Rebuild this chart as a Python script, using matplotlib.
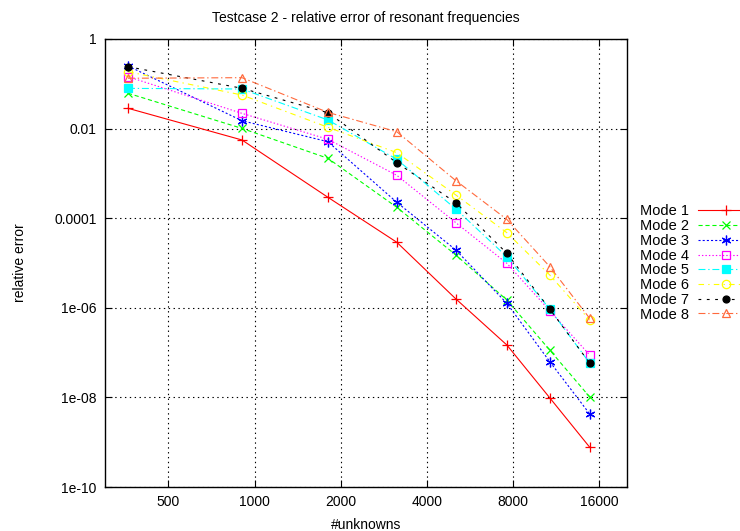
import matplotlib
matplotlib.use('Agg')
import matplotlib.pyplot as plt
from matplotlib.ticker import FixedLocator, FixedFormatter, NullLocator

plt.rcParams['font.family'] = ['Liberation Sans', 'DejaVu Sans']
plt.rcParams['lines.scale_dashes'] = False

# unknowns per refinement level
unknowns = [361, 903, 1803, 3139, 5046, 7606, 10741, 14820]

# relative error per mode
mode1 = [0.0284, 0.00557, 2.93e-4, 2.9e-5, 1.58e-6, 1.48e-7, 9.8e-9, 7.7e-10]
mode2 = [0.0616, 0.0101, 2.17e-3, 1.75e-4, 1.51e-5, 1.49e-6, 1.14e-7, 1.02e-8]
mode3 = [0.25, 0.0150, 5.1e-3, 2.26e-4, 1.95e-5, 1.26e-6, 6.3e-8, 4.26e-9]
mode4 = [0.144, 0.0219, 5.77e-3, 9.06e-4, 7.94e-5, 9.84e-6, 8.6e-7, 8.8e-8]
mode5 = [0.079, 0.0765, 0.0156, 2.06e-3, 1.6e-4, 1.38e-5, 9.4e-7, 5.8e-8]
mode6 = [0.186, 0.0562, 0.0107, 2.9e-3, 3.3e-4, 4.75e-5, 5.4e-6, 5.3e-7]
mode7 = [0.241, 0.0794, 0.0226, 1.73e-3, 2.22e-4, 1.65e-5, 9.4e-7, 5.8e-8]
mode8 = [0.133, 0.137, 0.023, 8.5e-3, 6.9e-4, 9.4e-5, 8.3e-6, 5.8e-7]

modes = [mode1, mode2, mode3, mode4, mode5, mode6, mode7, mode8]
labels = ['Mode 1', 'Mode 2', 'Mode 3', 'Mode 4', 'Mode 5', 'Mode 6', 'Mode 7', 'Mode 8']

xticks = [500, 1000, 2000, 4000, 8000, 16000]
xticklabels = ['500', '1000', '2000', '4000', '8000', '16000']
yticks = [1, 1e-2, 1e-4, 1e-6, 1e-8, 1e-10]
yticklabels = ['1', '0.01', '0.0001', '1e-06', '1e-08', '1e-10']

# gnuplot-like styles
colors = ['#ff0000', '#00ff00', '#0000ff', '#ff00ff', '#00ffff', '#ffff00', '#000000', '#ff6a3d']
dashes = [None, (3, 2), (1.5, 1.5), (1, 1.5), (5, 2, 1, 2), (4, 3, 1, 3), (2, 4), (5, 2, 1, 2)]
markers = ['+', 'x', (6, 2, 0), 's', 's', 'o', 'o', '^']
mfill = ['full', 'full', 'full', 'none', 'full', 'none', 'full', 'none']
msizes = [7, 6, 7, 5.5, 5.5, 6, 5, 6]

fig = plt.figure(figsize=(7.4, 5.31), dpi=100)
ax = fig.add_axes([105/740, 44/531, 522/740, 448/531])

for i in range(len(modes)):
    ln, = ax.plot(unknowns, modes[i], color=colors[i], marker=markers[i],
                  fillstyle=mfill[i], markersize=msizes[i], lw=0.8,
                  markeredgewidth=0.9, label=labels[i])
    if dashes[i] is not None:
        ln.set_dashes(dashes[i])

ax.set_xscale('log', base=2)
ax.set_yscale('log')
ax.set_xlim(300, 20000)
ax.set_ylim(1e-10, 1)

ax.xaxis.set_major_locator(FixedLocator(xticks))
ax.xaxis.set_major_formatter(FixedFormatter(xticklabels))
ax.xaxis.set_minor_locator(NullLocator())
ax.yaxis.set_major_locator(FixedLocator(yticks))
ax.yaxis.set_major_formatter(FixedFormatter(yticklabels))
ax.yaxis.set_minor_locator(NullLocator())

ax.grid(True, color='black', linestyle=(0, (1, 2.5)), lw=0.8)
ax.tick_params(direction='in', top=True, right=True, length=5, width=0.8,
               labelsize=10, pad=6)
for s in ax.spines.values():
    s.set_linewidth(1.0)

ax.set_title('Testcase 2 - relative error of resonant frequencies', fontsize=10, pad=12)
ax.set_xlabel('#unknowns', fontsize=10, labelpad=6)
ax.set_ylabel('relative error', fontsize=10, labelpad=20)

fig.legend(loc='center left', bbox_to_anchor=(633/740, 1 - 263/531),
           frameon=False, markerfirst=False, fontsize=10.5, borderpad=0,
           labelspacing=0.05, handlelength=3.8, handletextpad=0.6)

fig.savefig('out.png', dpi=100)
